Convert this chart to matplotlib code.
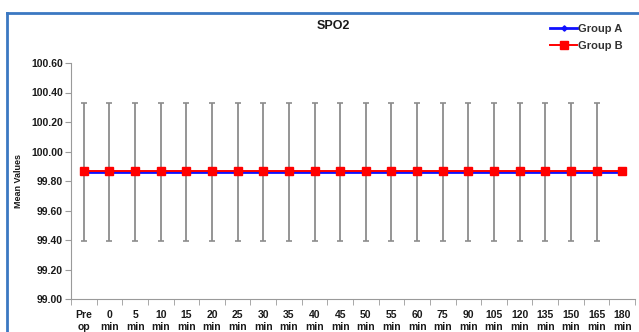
import matplotlib
matplotlib.use('Agg')
import matplotlib.pyplot as plt
import numpy as np

# ── DATA ──────────────────────────────────────────────────────────────────────
times   = ["Pre\nop", "0\nmin", "5\nmin", "10\nmin", "15\nmin", "20\nmin", "25\nmin",
           "30\nmin", "35\nmin", "40\nmin", "45\nmin", "50\nmin", "55\nmin", "60\nmin",
           "75\nmin", "90\nmin", "105\nmin", "120\nmin", "135\nmin", "150\nmin",
           "165\nmin", "180\nmin"]
group_a = [99.86] * 22
group_b = [99.87] * 22
sd_a    = [0.47] * 21 + [np.nan]
y_ticks = [99.00, 99.20, 99.40, 99.60, 99.80, 100.00, 100.20, 100.40, 100.60]

# ── THEME ─────────────────────────────────────────────────────────────────────
BORDER = "#3b78c2"
AXIS   = "#9a9a9a"
TEXT   = "#1a1a1a"
plt.rcParams.update({'font.family': ['Liberation Sans', 'DejaVu Sans'],
                     'font.weight': 'bold'})

fig = plt.figure(figsize=(6.39, 3.32), dpi=100, facecolor='white')

# outer chart frame (runs off the right/bottom edge)
frame = fig.add_axes([7/639, -0.05, 1.05, 1 - 13/332 + 0.05])
frame.set_xticks([]); frame.set_yticks([])
frame.patch.set_alpha(0)
for s in frame.spines.values():
    s.set_edgecolor(BORDER); s.set_linewidth(2)

ax = fig.add_axes([71/639, 1 - 299/332, 564/639, (299 - 63)/332])
ax.patch.set_alpha(0)
x = np.arange(len(times))

eb = ax.errorbar(x, group_a, yerr=sd_a, fmt='none', ecolor='#8c8c8c',
                 elinewidth=1.3, capsize=2.5, capthick=1.2, zorder=2)
for cl in eb[1]:
    cl.set_color('#3c3c3c')
ax.plot(x, group_a, color='#1010ff', lw=2, marker='D', ms=3,
        label='Group A', zorder=3)
ax.plot(x, group_b, color='#ff0000', lw=1.4, marker='s', ms=6,
        label='Group B', zorder=4)

ax.set_xlim(-0.5, len(times) - 0.5)
ax.set_ylim(99.0, 100.6)
ax.set_yticks(y_ticks)
ax.set_yticklabels([f"{v:.2f}" for v in y_ticks], fontsize=7.5, color=TEXT)
ax.set_xticks(x)
ax.set_xticklabels(times, fontsize=7.5, color=TEXT, linespacing=1.2)
ax.set_xticks(np.arange(-0.5, len(times)), minor=True)
ax.tick_params(axis='x', which='major', length=0, pad=8)
ax.tick_params(axis='x', which='minor', length=4, color=AXIS)
ax.tick_params(axis='y', length=4, color=AXIS, pad=2)
for side in ['top', 'right']:
    ax.spines[side].set_visible(False)
for side in ['left', 'bottom']:
    ax.spines[side].set_color(AXIS)

ax.set_ylabel("Mean Values", fontsize=6.5, fontweight='bold', color=TEXT,
              labelpad=6)
fig.text(333/639, 1 - 26/332, "SPO2", ha='center', va='center',
         fontsize=9, fontweight='bold', color=TEXT)

leg = fig.legend(loc='upper right', bbox_to_anchor=(0.99, 0.958), frameon=False,
                 fontsize=8, handlelength=2.4, handletextpad=0.1,
                 labelspacing=0.6, markerscale=0.9)
for t in leg.get_texts():
    t.set_color('#333333')

plt.savefig('out.png', dpi=100, facecolor='white')
